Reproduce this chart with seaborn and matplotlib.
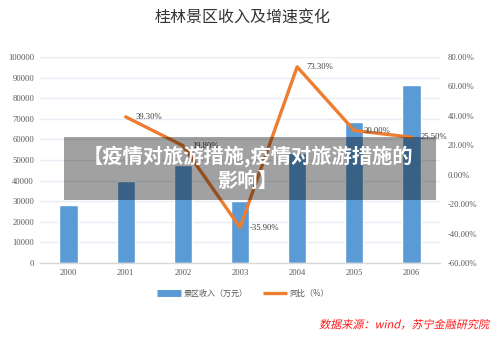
import numpy as np
import pandas as pd
import matplotlib
matplotlib.use("Agg")
import matplotlib.pyplot as plt
from matplotlib.lines import Line2D
from matplotlib.patches import Rectangle
from matplotlib.transforms import Affine2D
import matplotlib.patheffects as pe
import matplotlib.ticker as mticker
import seaborn as sns

# ---- data ----
years = ["2000", "2001", "2002", "2003", "2004", "2005", "2006"]
income = [28300, 39600, 47600, 30100, 53300, 68600, 86400]
growth_years = ["2001", "2002", "2003", "2004", "2005", "2006"]
growth = [39.3, 19.8, -35.9, 73.3, 30.0, 25.5]
growth_labels = ["39.30%", "19.80%", "-35.90%", "73.30%", "30.00%", "25.50%"]
left_ticks = [0, 10000, 20000, 30000, 40000, 50000, 60000, 70000, 80000, 90000, 100000]
right_ticks = [-60, -40, -20, 0, 20, 40, 60, 80]

title = "桂林景区收入及增速变化"
bar_name = "景区收入（万元）"
line_name = "同比（%）"
overlay_text = "【疫情对旅游措施,疫情对旅游措施的\n影响】"
source_text = "数据来源：wind，苏宁金融研究院"

BAR_C = "#5b9bd5"
LINE_C = "#ed7d31"
TXT_C = "#595959"
GRID_C = "#e6edf5"


class Skew(pe.AbstractPathEffect):
    """Shear glyphs to imitate an italic CJK face."""
    def __init__(self, deg=12):
        super().__init__()
        self.deg = deg

    def draw_path(self, renderer, gc, tpath, affine, rgbFace=None):
        renderer.draw_path(gc, tpath, affine + Affine2D().skew_deg(self.deg, 0)
                           .translate(-np.tan(np.radians(self.deg)) * 12, 0), rgbFace)


sns.set_theme(style="white")
plt.rcParams["font.family"] = ["Noto Sans CJK SC", "DejaVu Sans"]

fig = plt.figure(figsize=(5.0, 3.37), dpi=100)
ax = fig.add_axes([0.08, 1 - 263 / 337, 0.80, (263 - 57) / 337])

df_bar = pd.DataFrame({"year": years, "income": income})
sns.barplot(data=df_bar, x="year", y="income", color=BAR_C, width=0.32,
            saturation=1, ax=ax, zorder=2)
ax.set_ylim(0, 100000)
ax.set_xlim(-0.5, 6.5)
ax.set_yticks(left_ticks)
ax.yaxis.set_major_formatter(mticker.FuncFormatter(lambda v, p: f"{int(v)}"))
ax.grid(axis="y", color=GRID_C, linewidth=1.0, zorder=0)
ax.set_axisbelow(True)
for s in ["top", "right", "left"]:
    ax.spines[s].set_visible(False)
ax.spines["bottom"].set_color("#d9d9d9")
ax.spines["bottom"].set_linewidth(1.0)
ax.set_xlabel("")
ax.set_ylabel("")
ax.tick_params(axis="both", length=0, labelcolor=TXT_C)
ax.tick_params(axis="y", pad=4.3, labelsize=6.2)
ax.tick_params(axis="x", pad=4.5, labelsize=6.2)
for t in ax.get_xticklabels() + ax.get_yticklabels():
    t.set_family("Liberation Serif")

ax2 = ax.twinx()
df_line = pd.DataFrame({"year": growth_years, "growth": growth})
sns.lineplot(data=df_line, x="year", y="growth", color=LINE_C, linewidth=2.4,
             ax=ax2, sort=False, zorder=3)
ax2.set_ylim(-60, 80)
ax2.set_yticks(right_ticks)
ax2.yaxis.set_major_formatter(mticker.FuncFormatter(lambda v, p: f"{v:.2f}%"))
ax2.set_xlim(-0.5, 6.5)
for s in ["top", "right", "left", "bottom"]:
    ax2.spines[s].set_visible(False)
ax2.set_xlabel("")
ax2.set_ylabel("")
ax2.tick_params(axis="y", length=0, labelcolor=TXT_C, pad=5.8, labelsize=6.2)
for t in ax2.get_yticklabels():
    t.set_family("Liberation Serif")

line = ax2.get_lines()[0]
xs, ys = line.get_xdata(), line.get_ydata()
for xv, yv, lab in zip(xs, ys, growth_labels):
    ax2.annotate(lab, (xv, yv), xytext=(7, 0), textcoords="offset points",
                 ha="left", va="center", fontsize=6.2, color="#404040",
                 family="Liberation Serif", zorder=4)

fig.text(243 / 500, 1 - 18 / 337, title, ha="center", va="center",
         fontsize=11.5, color="#333333")

handles = [Line2D([], [], color=BAR_C, linewidth=5, solid_capstyle="butt"),
           Line2D([], [], color=LINE_C, linewidth=2.4, solid_capstyle="butt")]
leg = fig.legend(handles, [bar_name, line_name], loc="center",
                 bbox_to_anchor=(243 / 500, 1 - 293 / 337), ncol=2,
                 frameon=False, fontsize=5.8, handlelength=3.0,
                 handletextpad=0.25, columnspacing=2.0)
for t in leg.get_texts():
    t.set_color(TXT_C)

# overlay band
fig.patches.append(Rectangle((64 / 500, 1 - 200 / 337), (436 - 64) / 500,
                             (200 - 137) / 337, transform=fig.transFigure,
                             facecolor="black", alpha=0.37, edgecolor="none",
                             zorder=10))
fig.text(248 / 500, 1 - 168 / 337, overlay_text, ha="center", va="center",
         fontsize=14.6, color="white", fontweight="bold", linespacing=1.2,
         zorder=11)

fig.text(490 / 500, 1 - 325 / 337, source_text, ha="right", va="center",
         fontsize=8, color="#ff1a1a", path_effects=[Skew(12)])

fig.savefig("out.png", dpi=100)
